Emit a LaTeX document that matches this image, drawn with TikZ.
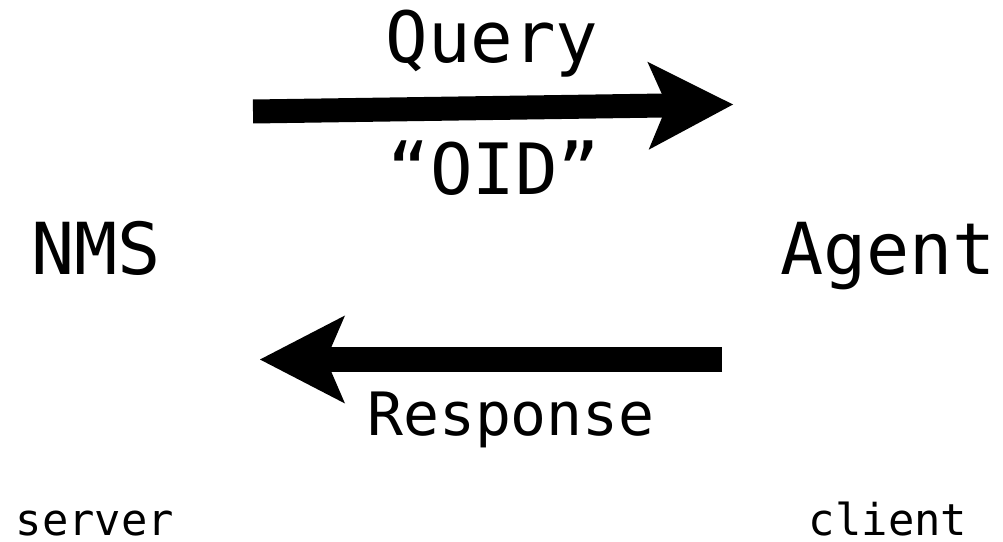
\documentclass[tikz,border=0pt]{standalone}
\usepackage{fontspec}
\newfontfamily\monofam{DejaVu Sans Mono}
\usetikzlibrary{arrows.meta}
\tikzset{
  lbl/.style={inner sep=0pt, anchor=base, font=\monofam\fontsize{#1}{#1}\selectfont},
  bigarrow/.style={line width=24bp, -{Stealth[length=85bp, width=88bp, inset=19bp, line width=0pt]}}
}
\begin{document}
\begin{tikzpicture}[x=1bp, y=-1bp]
  \useasboundingbox (0,0) rectangle (1003,542);

  % endpoints
  \node[lbl=72] (nms)    at (96,275)    {NMS};
  \node[lbl=72] (agent)  at (888,275)   {Agent};
  \node[lbl=44] (server) at (95,535)    {server};
  \node[lbl=44] (client) at (888,535)   {client};

  % message labels
  \node[lbl=71] (query)  at (492,63)    {Query};
  \node[lbl=71] (oid)    at (494,195)   {“OID”};
  \node[lbl=60] (resp)   at (511,435)   {Response};

  % arrow ends
  \coordinate (qtail) at (253,111.5);
  \coordinate (qtip)  at (733,104.5);
  \coordinate (rtail) at (722,359.5);
  \coordinate (rtip)  at (260,359.5);

  \draw[bigarrow] (qtail) -- (qtip);
  \draw[bigarrow] (rtail) -- (rtip);
\end{tikzpicture}
\end{document}
